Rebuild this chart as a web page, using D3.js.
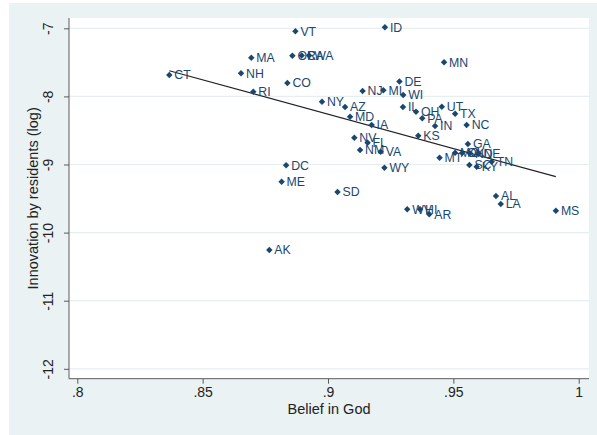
<!DOCTYPE html>
<html><head><meta charset="utf-8">
<script src="https://cdn.jsdelivr.net/npm/d3@7"></script>
<style>html,body{margin:0;padding:0;background:#fff;}svg{display:block;}</style>
</head><body>
<script>
const states = ["CT","NH","MA","RI","VT","CO","OR","CA","WA","DC","ME","AK","SD","ID","NY","AZ","MD","IA","NJ","MI","DE","WI","IL","OH","PA","IN","UT","TX","NC","KS","GA","MN","NV","FL","NM","VA","WY","MT","MO","OK","ND","NE","SC","KY","TN","WV","HI","AR","AL","LA","MS"];
const belief = [.8367,.8653,.8694,.8702,.8870,.8838,.8858,.8895,.8925,.8833,.8815,.8766,.9038,.9227,.8976,.9068,.9088,.9174,.9138,.9221,.9285,.9300,.9299,.9351,.9376,.9427,.9454,.9507,.9553,.9360,.9558,.9463,.9105,.9158,.9128,.9210,.9225,.9445,.9507,.9535,.9566,.9600,.9564,.9593,.9653,.9316,.9367,.9404,.9670,.9689,.9909];
const innov = [-7.686,-7.661,-7.432,-7.931,-7.044,-7.803,-7.402,-7.400,-7.400,-9.012,-9.253,-10.256,-9.404,-6.985,-8.078,-8.156,-8.298,-8.420,-7.921,-7.910,-7.781,-7.979,-8.156,-8.225,-8.322,-8.435,-8.151,-8.254,-8.420,-8.577,-8.699,-7.499,-8.606,-8.680,-8.787,-8.812,-9.047,-8.900,-8.827,-8.830,-8.836,-8.836,-9.007,-9.032,-8.959,-9.658,-9.658,-9.731,-9.463,-9.580,-9.678];
const fitX = [.8367,.9909];
const fitY = [-7.623,-9.179];
const xTicks = [.8,.85,.9,.95,1];
const xTickLabels = [".8",".85",".9",".95","1"];
const yTicks = [-7,-8,-9,-10,-11,-12];

const W=597,H=435;
const navy="#1a476f";
const svg=d3.select("body").append("svg").attr("width",W).attr("height",H)
  .style("font-family","'Liberation Sans',Arial,sans-serif");
svg.append("rect").attr("x",9).attr("y",3).attr("width",W-9).attr("height",H-3).attr("fill","#eaf2f3");
const L=69,R=589,T=18,B=378.7;
svg.append("rect").attr("x",L).attr("y",T).attr("width",R-L).attr("height",B-T).attr("fill","#fff");

const x=d3.scaleLinear().domain([.8,1]).range([77.3,578.7]);
const y=d3.scaleLinear().domain([-7,-12]).range([28.3,368.8]);

// gridlines
svg.append("g").selectAll("line").data(yTicks).join("line")
  .attr("x1",L).attr("x2",R).attr("y1",d=>y(d)).attr("y2",d=>y(d))
  .attr("stroke","#e6eef0").attr("stroke-width",1.2);

// y axis
const yAxis=svg.append("g").attr("transform",`translate(${L},0)`)
  .call(d3.axisLeft(y).tickValues(yTicks).tickSize(5).tickFormat(d3.format("d")));
yAxis.select(".domain").attr("d",`M0,${T}V${B}`).attr("stroke","#5a5a5a");
yAxis.selectAll(".tick line").attr("stroke","#5a5a5a");
yAxis.selectAll(".tick text").attr("transform","rotate(-90)").attr("x",0).attr("y",-16)
  .attr("dy","0").attr("text-anchor","middle").attr("font-size",14).attr("fill","#222")
  .text(d=>String(d).replace("−","-"));

// x axis
const xAxis=svg.append("g").attr("transform",`translate(0,${B})`)
  .call(d3.axisBottom(x).tickValues(xTicks).tickSize(5).tickFormat((d,i)=>xTickLabels[i]));
xAxis.select(".domain").attr("d",`M${L},0H${R}`).attr("stroke","#5a5a5a");
xAxis.selectAll(".tick line").attr("stroke","#5a5a5a");
xAxis.selectAll(".tick text").attr("y",8).attr("font-size",14).attr("fill","#222");

// titles
svg.append("text").attr("x",(L+R)/2).attr("y",414).attr("text-anchor","middle")
  .attr("font-size",14.5).attr("fill","#222").text("Belief in God");
svg.append("text").attr("transform",`translate(38,${(T+B)/2}) rotate(-90)`).attr("text-anchor","middle")
  .attr("font-size",14.5).attr("fill","#222").text("Innovation by residents (log)");

// fit line
svg.append("path").datum(fitX.map((v,i)=>[v,fitY[i]]))
  .attr("d",d3.line().x(d=>x(d[0])).y(d=>y(d[1])))
  .attr("stroke","#222").attr("stroke-width",1.2).attr("fill","none");

// points
const data=states.map((s,i)=>({s,b:belief[i],v:innov[i]}));
const sym=d3.symbol().type(d3.symbolSquare).size(21);
const g=svg.append("g");
g.selectAll("path").data(data).join("path")
  .attr("d",sym).attr("transform",d=>`translate(${x(d.b)},${y(d.v)}) rotate(45)`)
  .attr("fill",navy);
g.selectAll("text").data(data).join("text")
  .attr("x",d=>x(d.b)+5).attr("y",d=>y(d.v)).attr("dy","0.36em")
  .attr("font-size",12.3).attr("fill",navy).text(d=>d.s);
</script>
</body></html>
